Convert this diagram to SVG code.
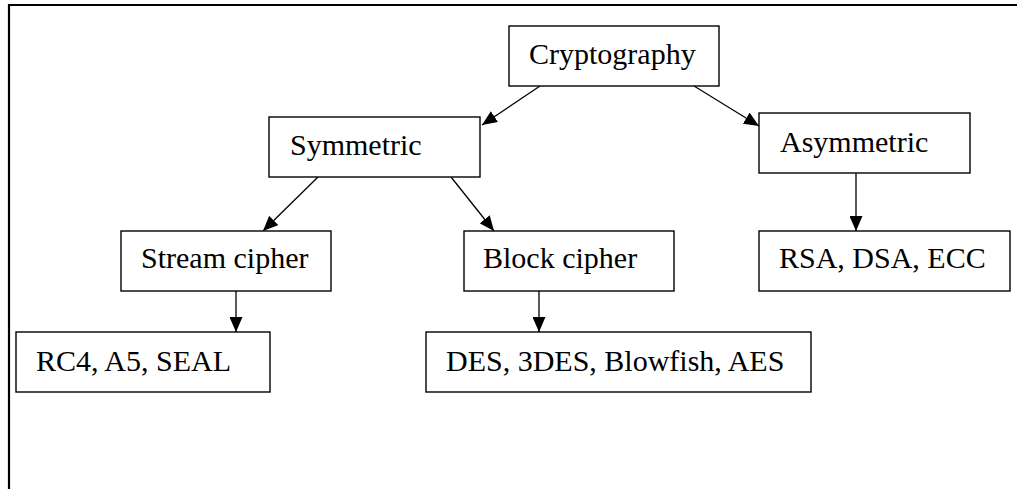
<svg xmlns="http://www.w3.org/2000/svg" width="1017" height="489" viewBox="0 0 1017 489">
<style>
.box{fill:#fff;stroke:#000;stroke-width:1.4}
.lbl{font-family:"Liberation Serif","Times New Roman",serif;font-size:30px;fill:#000}
.con{stroke:#000;stroke-width:1.3;fill:none}
</style>
<defs>
<marker id="ah" markerUnits="userSpaceOnUse" markerWidth="16" markerHeight="13" refX="15" refY="6.5" orient="auto">
<path d="M0,0 L15,6.5 L0,13 z" fill="#000"/>
</marker>
</defs>
<rect width="1017" height="489" fill="#fff"/>
<g id="frame">
<path d="M9,489 L9,5 L1017,5" fill="none" stroke="#000" stroke-width="2.2"/>
</g>
<g id="connectors">
<line class="con" x1="540" y1="86" x2="482" y2="125" marker-end="url(#ah)"/>
<line class="con" x1="694" y1="86" x2="759" y2="126" marker-end="url(#ah)"/>
<line class="con" x1="318" y1="177" x2="263" y2="231" marker-end="url(#ah)"/>
<line class="con" x1="451" y1="177" x2="494" y2="231" marker-end="url(#ah)"/>
<line class="con" x1="236" y1="291" x2="236" y2="332" marker-end="url(#ah)"/>
<line class="con" x1="539" y1="291" x2="539" y2="332" marker-end="url(#ah)"/>
<line class="con" x1="856" y1="173" x2="856" y2="231" marker-end="url(#ah)"/>
</g>
<g id="cryptography"><rect class="box" x="509" y="26" width="210" height="60"/><text class="lbl" x="529" y="64">Cryptography</text></g>
<g id="symmetric"><rect class="box" x="269" y="117" width="211" height="60"/><text class="lbl" x="290" y="155">Symmetric</text></g>
<g id="asymmetric"><rect class="box" x="759" y="113" width="211" height="60"/><text class="lbl" x="780" y="152">Asymmetric</text></g>
<g id="stream"><rect class="box" x="121" y="231" width="210" height="60"/><text class="lbl" x="141" y="268">Stream cipher</text></g>
<g id="block"><rect class="box" x="464" y="231" width="210" height="60"/><text class="lbl" x="483" y="268">Block cipher</text></g>
<g id="rsa"><rect class="box" x="759" y="231" width="251" height="60"/><text class="lbl" x="779" y="268">RSA, DSA, ECC</text></g>
<g id="rc4"><rect class="box" x="16" y="332" width="254" height="60"/><text class="lbl" x="36" y="371">RC4, A5, SEAL</text></g>
<g id="des"><rect class="box" x="426" y="332" width="385" height="60"/><text class="lbl" x="446" y="371">DES, 3DES, Blowfish, AES</text></g>
</svg>
